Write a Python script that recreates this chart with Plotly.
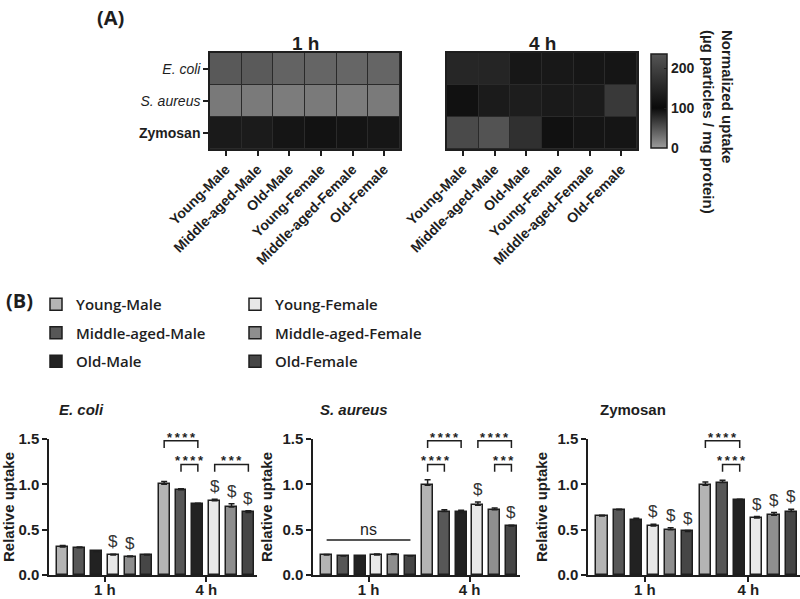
import plotly.graph_objects as go

# ---------------- data ----------------
groups = ["Young-Male", "Middle-aged-Male", "Old-Male",
          "Young-Female", "Middle-aged-Female", "Old-Female"]
pathogen_labels = ["<i>E. coli</i>", "<i>S. aureus</i>", "<b>Zymosan</b>"]
times = ["1 h", "4 h"]

# heatmap: normalized uptake (µg particles / mg protein)
heat_1h_ecoli = [46, 45, 39, 38, 37, 38]
heat_1h_saureus = [24, 23, 22, 23, 22, 23]
heat_1h_zymosan = [128, 130, 120, 115, 118, 122]
heat_4h_ecoli = [150, 148, 123, 125, 122, 120]
heat_4h_saureus = [112, 130, 135, 128, 130, 185]
heat_4h_zymosan = [215, 232, 168, 112, 120, 120]

# relative uptake bars
ecoli_1h = [0.31, 0.30, 0.26, 0.22, 0.20, 0.22]
ecoli_1h_err = [0.015, 0.008, 0.005, 0.01, 0.01, 0.005]
ecoli_4h = [1.00, 0.94, 0.78, 0.82, 0.75, 0.69]
ecoli_4h_err = [0.03, 0.01, 0.01, 0.015, 0.035, 0.02]
saureus_1h = [0.22, 0.21, 0.21, 0.22, 0.225, 0.21]
saureus_1h_err = [0.005, 0.003, 0.003, 0.012, 0.008, 0.003]
saureus_4h = [0.99, 0.70, 0.69, 0.77, 0.72, 0.54]
saureus_4h_err = [0.06, 0.02, 0.025, 0.035, 0.02, 0.01]
zymosan_1h = [0.65, 0.72, 0.61, 0.54, 0.50, 0.48]
zymosan_1h_err = [0.01, 0.005, 0.015, 0.02, 0.02, 0.01]
zymosan_4h = [0.99, 1.02, 0.83, 0.63, 0.66, 0.70]
zymosan_4h_err = [0.035, 0.025, 0.005, 0.015, 0.03, 0.025]

bar_colors = ["#b4b4b4", "#575757", "#222222", "#e8e8e8", "#8e8e8e", "#464646"]

# significance: (time index, bar a, bar b, level, label)
ecoli_sig = [(1, 0, 2, 2, "****"), (1, 1, 2, 1, "****"), (1, 3, 5, 1, "***")]
saureus_sig = [(1, 0, 2, 2, "****"), (1, 0, 1, 1, "****"),
               (1, 3, 5, 2, "****"), (1, 4, 5, 1, "***")]
zymosan_sig = [(1, 0, 2, 2, "****"), (1, 1, 2, 1, "****")]
ecoli_dollar = [(0, 3), (0, 4), (1, 3), (1, 4), (1, 5)]
saureus_dollar = [(1, 3), (1, 5)]
zymosan_dollar = [(0, 3), (0, 4), (0, 5), (1, 3), (1, 4), (1, 5)]
saureus_ns = [(0, 0, 5, "ns")]

# ---------------- style ----------------
FONT = "Liberation Sans, Arial, sans-serif"
LFONT = "Open Sans, sans-serif"
INK = "#1e1e1e"
W, H = 800, 599
PITCH = 0.166
BW = 0.108
XR = [-0.55, 1.5]
YR = [0, 1.5]
LEVEL_Y = {1: 1.22, 2: 1.48}
DROP = 0.08

fig = go.Figure()

# ---------------- heatmaps ----------------
z1 = [heat_1h_ecoli, heat_1h_saureus, heat_1h_zymosan]
z2 = [heat_4h_ecoli, heat_4h_saureus, heat_4h_zymosan]
fig.add_trace(go.Heatmap(z=z1, x=groups, y=[0, 1, 2], coloraxis="coloraxis",
                         xgap=1, ygap=1, xaxis="x", yaxis="y", hoverongaps=False))
fig.add_trace(go.Heatmap(z=z2, x=groups, y=[0, 1, 2], coloraxis="coloraxis",
                         xgap=1, ygap=1, xaxis="x2", yaxis="y2", hoverongaps=False))

hm_y = [1 - 149 / H, 1 - 53 / H]
common_hx = dict(showline=True, mirror=True, linecolor=INK, linewidth=1.5,
                 ticks="outside", ticklen=5, tickwidth=1.5, tickcolor=INK,
                 tickangle=-45, tickfont=dict(family=FONT, size=14, color=INK, weight="bold"),
                 showgrid=False, zeroline=False, automargin=False)
fig.update_layout(
    xaxis=dict(domain=[210 / W, 400 / W], anchor="y", **common_hx),
    yaxis=dict(domain=hm_y, anchor="x", autorange="reversed", tickvals=[0, 1, 2],
               ticktext=pathogen_labels, showline=True, mirror=True, linecolor=INK,
               linewidth=1.5, ticks="outside", ticklen=5, tickwidth=1.5, tickcolor=INK,
               tickfont=dict(family=FONT, size=14, color=INK), showgrid=False,
               zeroline=False, automargin=False),
    xaxis2=dict(domain=[447 / W, 637 / W], anchor="y2", **common_hx),
    yaxis2=dict(domain=hm_y, anchor="x2", autorange="reversed", showticklabels=False,
                showline=True, mirror=True, linecolor=INK, linewidth=1.5, ticks="",
                showgrid=False, zeroline=False, automargin=False),
    coloraxis=dict(
        cmin=0, cmax=235,
        colorscale=[[0, "#9c9c9c"], [100 / 235, "#0a0a0a"], [1, "#555555"]],
        colorbar=dict(x=651 / W, xanchor="left", y=1 - 101 / H, yanchor="middle",
                      thickness=16, thicknessmode="pixels", len=94, lenmode="pixels",
                      outlinewidth=1.5, outlinecolor=INK, tickvals=[0, 100, 200],
                      ticks="inside", ticklen=3, tickcolor=INK,
                      tickfont=dict(family=FONT, size=14, color=INK, weight="bold"),
                      xpad=0, ypad=0),
    ),
)
for ax, yref in [("x", "y"), ("x2", "y2")]:
    fig.add_shape(type="rect", xref=f"{ax} domain", yref=f"{yref} domain",
                  x0=0, x1=1, y0=0, y1=1, fillcolor="#2a2a2a", line=dict(width=0),
                  layer="below")


def paper_text(text, px, py, size, family=FONT, xanchor="center", yanchor="middle", **kw):
    fig.add_annotation(text=text, x=px / W, y=1 - py / H, xref="paper", yref="paper",
                       xanchor=xanchor, yanchor=yanchor, showarrow=False,
                       font=dict(family=family, size=size, color=INK), **kw)


# heatmap titles
paper_text("<b>1 h</b>", 305, 43, 19)
paper_text("<b>4 h</b>", 542, 43, 19)
paper_text("<b>Normalized uptake<br>(µg particles / mg protein)</b>", 718, 28, 15,
           yanchor="top", textangle=90, align="left")

# panel labels
paper_text("<b>(A)</b>", 95, 18, 20, family=LFONT, xanchor="left")
paper_text("<b>(B)</b>", 4, 300, 20, family=LFONT, xanchor="left")

# ---------------- bar charts ----------------
charts = [
    ("x3", "y3", [49 / W, 257 / W], "<b><i>E. coli</i></b>", 57,
     [ecoli_1h, ecoli_4h], [ecoli_1h_err, ecoli_4h_err], ecoli_sig, ecoli_dollar, []),
    ("x4", "y4", [313 / W, 520 / W], "<b><i>S. aureus</i></b>", 318,
     [saureus_1h, saureus_4h], [saureus_1h_err, saureus_4h_err], saureus_sig, saureus_dollar,
     saureus_ns),
    ("x5", "y5", [588 / W, 800 / W], "<b>Zymosan</b>", 598,
     [zymosan_1h, zymosan_4h], [zymosan_1h_err, zymosan_4h_err], zymosan_sig, zymosan_dollar,
     []),
]
bar_y = [1 - 575 / H, 1 - 439 / H]


def xpos(t, i):
    return t + (i - 2.5) * PITCH


def fx(x):
    return (x - XR[0]) / (XR[1] - XR[0])


def fy(y):
    return (y - YR[0]) / (YR[1] - YR[0])


for ci, (xa, ya, dom, title, tx, vals, errs, sig, dollars, ns) in enumerate(charts):
    for i, g in enumerate(groups):
        leg = "legend" if i < 3 else "legend2"
        fig.add_trace(go.Bar(
            x=[xpos(t, i) for t in range(len(times))],
            y=[vals[t][i] for t in range(len(times))],
            width=BW, name=g, legendgroup=g, legend=leg, showlegend=(ci == 0),
            marker=dict(color=bar_colors[i], line=dict(color=INK, width=1.5)),
            error_y=dict(type="data", array=[errs[t][i] for t in range(len(times))],
                         arrayminus=[0] * len(times), color=INK, thickness=1.5, width=3),
            xaxis=xa, yaxis=ya))
    axn = xa[1:]
    fig.layout[f"xaxis{axn}"] = dict(
        domain=dom, anchor=ya, range=XR, tickvals=list(range(len(times))), ticktext=times,
        showline=True, linecolor=INK, linewidth=1.5, ticks="outside", ticklen=5,
        tickwidth=1.5, tickcolor=INK, showgrid=False, zeroline=False, automargin=False,
        ticklabelstandoff=-5,
        tickfont=dict(family=FONT, size=15, color=INK, weight="bold"))
    fig.layout[f"yaxis{axn}"] = dict(
        domain=bar_y, anchor=xa, range=YR, tickvals=[0, 0.5, 1.0, 1.5], tickformat=".1f",
        showline=True, linecolor=INK, linewidth=1.5, ticks="outside", ticklen=5,
        tickwidth=1.5, tickcolor=INK, showgrid=False, zeroline=False, automargin=False,
        tickfont=dict(family=FONT, size=15, color=INK, weight="bold"),
        title=dict(text="<b>Relative uptake</b>", standoff=6,
                   font=dict(family=FONT, size=15, color=INK)))
    paper_text(title, tx, 409, 15, xanchor="left")

    for (t, a, b, lvl, lab) in sig:
        xa0, xb0 = xpos(t, a), xpos(t, b)
        yl = LEVEL_Y[lvl]
        fig.add_shape(type="path", xref=f"{xa} domain", yref=f"{ya} domain",
                      path=f"M{fx(xa0)},{fy(yl - DROP)} L{fx(xa0)},{fy(yl)} "
                           f"L{fx(xb0)},{fy(yl)} L{fx(xb0)},{fy(yl - DROP)}",
                      line=dict(color=INK, width=1.5))
        fig.add_annotation(text="<b>" + "\u2009".join(lab) + "</b>", x=(xa0 + xb0) / 2, y=yl,
                           xref=xa, yref=ya, yanchor="bottom", yshift=-6, showarrow=False,
                           font=dict(family=FONT, size=13, color=INK))
    for (t, i) in dollars:
        fig.add_annotation(text="$", x=xpos(t, i), y=vals[t][i] + errs[t][i] + 0.01,
                           xref=xa, yref=ya, yanchor="bottom", showarrow=False,
                           font=dict(family=FONT, size=17, color="#333333"))
    for (t, a, b, lab) in ns:
        xa0, xb0 = xpos(t, a), xpos(t, b)
        yl = max(vals[t]) + 0.16
        fig.add_shape(type="line", xref=f"{xa} domain", yref=f"{ya} domain",
                      x0=fx(xa0), x1=fx(xb0), y0=fy(yl), y1=fy(yl),
                      line=dict(color=INK, width=1.5))
        fig.add_annotation(text=lab, x=(xa0 + xb0) / 2, y=yl, xref=xa, yref=ya,
                           yanchor="bottom", showarrow=False,
                           font=dict(family=FONT, size=16, color=INK))

legend_font = dict(family=LFONT, size=15, color=INK, weight=600)
fig.update_layout(
    width=W, height=H, margin=dict(l=0, r=0, t=0, b=0),
    paper_bgcolor="white", plot_bgcolor="white",
    bargap=0, barmode="overlay",
    legend=dict(x=36 / W, y=1 - 288 / H, xanchor="left", yanchor="top", font=legend_font,
                tracegroupgap=6, bgcolor="rgba(0,0,0,0)", traceorder="grouped"),
    legend2=dict(x=235 / W, y=1 - 288 / H, xanchor="left", yanchor="top", font=legend_font,
                 tracegroupgap=6, bgcolor="rgba(0,0,0,0)", traceorder="grouped"),
    font=dict(family=FONT, color=INK),
)

fig.write_html("out.html")
